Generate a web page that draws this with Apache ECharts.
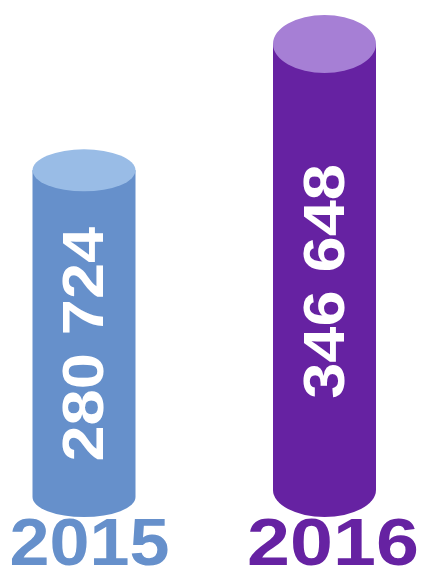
<!DOCTYPE html>
<html><head><meta charset="utf-8">
<script src="https://cdn.jsdelivr.net/npm/echarts@6/dist/echarts.min.js"></script>
<style>html,body{margin:0;padding:0;background:#fff}#c{width:421px;height:576px}</style>
</head><body><div id="c"></div>
<script>
var categories = ['2015', '2016'];
var values = [280724, 346648];
var valueLabels = ['280 724', '346 648'];

var BODY = ['#6690CB', '#6622A2'];
var TOP = ['#99BCE6', '#A67FD5'];
var RY_TOP = [21, 29];
var RY_BOT = [20, 27];
var LABEL_SCALE = [1.12, 1.12];
var YEAR_SCALE = [1.09, 1.17];
var RX = 51.5;

var chart = echarts.init(document.getElementById('c'), null, {renderer: 'canvas'});
chart.setOption({
  animation: false,
  grid: {left: 84, right: 96.5, top: 37.5, bottom: 59},
  xAxis: {type: 'category', data: categories, boundaryGap: false, show: false},
  yAxis: {type: 'value', min: 100000, max: 350000, show: false},
  series: [{
    type: 'custom',
    data: values.map(function (v, i) { return [i, v]; }),
    renderItem: function (params, api) {
      var i = params.dataIndex;
      var top = api.coord([api.value(0), api.value(1)]);
      var base = api.coord([api.value(0), 100000]);
      var cx = top[0], ty = top[1];
      var ryT = RY_TOP[i], ryB = RY_BOT[i];
      var bc = base[1] - ryB;
      var body = 'M' + (cx - RX) + ' ' + ty + ' L' + (cx - RX) + ' ' + bc +
        ' A' + RX + ' ' + ryB + ' 0 0 0 ' + (cx + RX) + ' ' + bc +
        ' L' + (cx + RX) + ' ' + ty + ' Z';
      var cap = 'M' + (cx - RX) + ' ' + ty +
        ' A' + RX + ' ' + ryT + ' 0 1 0 ' + (cx + RX) + ' ' + ty +
        ' A' + RX + ' ' + ryT + ' 0 1 0 ' + (cx - RX) + ' ' + ty + ' Z';
      var midY = (ty + ryT + bc) / 2;
      return {
        type: 'group',
        children: [
          {type: 'path', shape: {pathData: body}, style: {fill: BODY[i]}},
          {type: 'path', shape: {pathData: cap}, style: {fill: TOP[i]}},
          {type: 'text', x: cx + 3, y: midY, rotation: Math.PI / 2, scaleX: LABEL_SCALE[i],
            style: {text: valueLabels[i], fill: '#ffffff', font: 'bold 58px "Liberation Sans"',
              align: 'center', verticalAlign: 'middle'}},
          {type: 'text', x: cx + 5.5 + i * 3, y: base[1] + 29.5, scaleX: YEAR_SCALE[i],
            style: {text: categories[i], fill: BODY[i], font: 'bold 66px "Liberation Sans"',
              align: 'center', verticalAlign: 'middle'}}
        ]
      };
    }
  }]
});
</script></body></html>
